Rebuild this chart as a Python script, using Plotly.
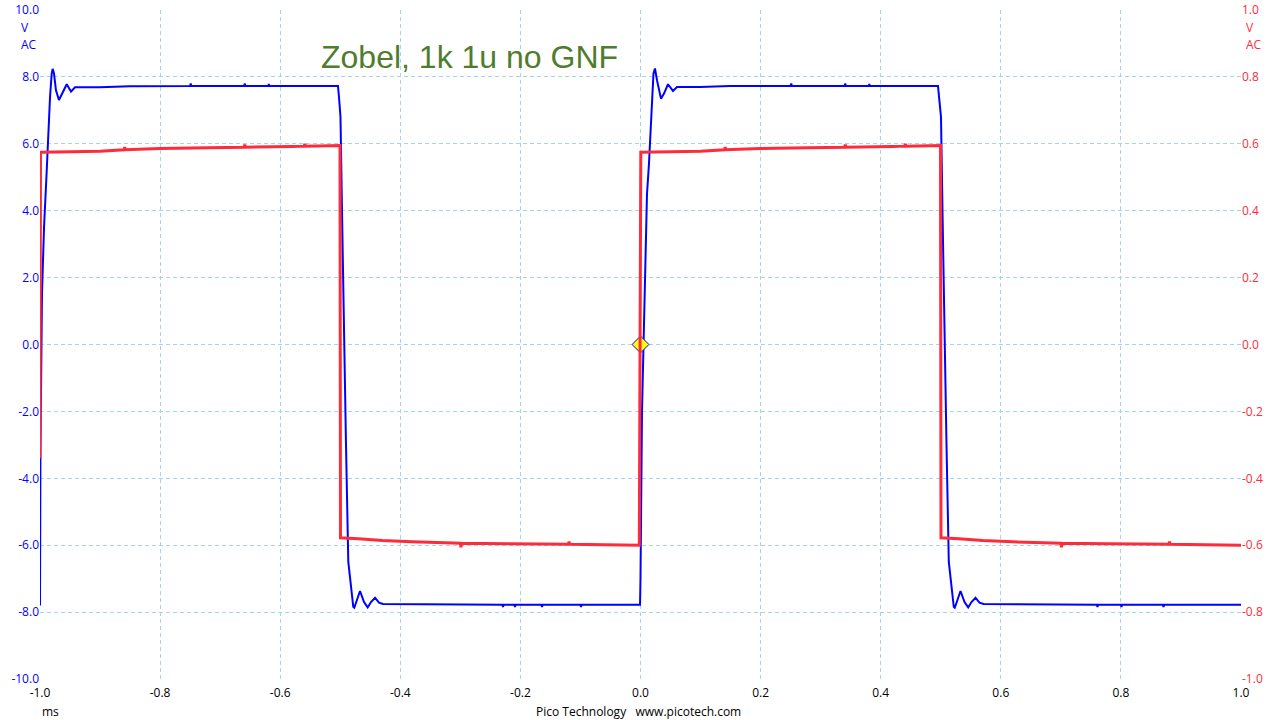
import plotly.graph_objects as go

# ---- data (time in ms) ----
blue_t = [-1.0, -0.9992, -0.9967, -0.9933, -0.9888, -0.9862, -0.9833, -0.9805, -0.9789, -0.9767,
          -0.9734, -0.9684, -0.9634, -0.9555, -0.9484, -0.9417, -0.9001, -0.8501,
          -0.75, -0.749, -0.748, -0.66, -0.659, -0.658, -0.62, -0.619, -0.618,
          -0.5038, -0.5021, -0.4996, -0.4971, -0.4938, -0.4904, -0.4866, -0.4821, -0.4783,
          -0.4766, -0.4721, -0.4671, -0.4604, -0.4543, -0.4488, -0.4421, -0.4355, -0.4288,
          -0.23, -0.229, -0.228, -0.21, -0.209, -0.208, -0.165, -0.164, -0.163, -0.10, -0.099, -0.098,
          -0.0008, 0.0, 0.0025, 0.0047, 0.0075, 0.0108, 0.0141, 0.0170, 0.0191, 0.0216,
          0.0241, 0.0275, 0.0341, 0.0391, 0.0458, 0.0541, 0.0608, 0.0991, 0.1490,
          0.25, 0.251, 0.252, 0.34, 0.341, 0.342, 0.38, 0.381, 0.382,
          0.4954, 0.4971, 0.5004, 0.5029, 0.5062, 0.5096, 0.5134, 0.5179, 0.5217,
          0.5234, 0.5279, 0.5329, 0.5396, 0.5457, 0.5512, 0.5579, 0.5645, 0.5712,
          0.76, 0.761, 0.762, 0.80, 0.801, 0.802, 0.87, 0.871, 0.872, 1.0]
blue_v = [-7.8, -3.0, 1.5, 3.5, 5.2, 6.4, 7.4, 8.1, 8.24, 8.1,
          7.6, 7.31, 7.5, 7.78, 7.56, 7.69, 7.69, 7.72,
          7.73, 7.8, 7.73, 7.73, 7.8, 7.73, 7.73, 7.79, 7.73,
          7.73, 7.4, 6.8, 4.0, 0.0, -3.0, -6.5, -7.19, -7.84,
          -7.87, -7.6, -7.37, -7.7, -7.86, -7.7, -7.57, -7.72, -7.76,
          -7.78, -7.85, -7.78, -7.78, -7.85, -7.78, -7.78, -7.85, -7.78, -7.78, -7.85, -7.78,
          -7.78, -7.0, -2.0, 0.0, 2.5, 4.5, 5.4, 6.6, 7.5, 8.1,
          8.25, 7.9, 7.35, 7.5, 7.78, 7.58, 7.7, 7.7, 7.73,
          7.73, 7.8, 7.73, 7.73, 7.8, 7.73, 7.73, 7.79, 7.73,
          7.73, 7.4, 6.8, 4.0, 0.0, -3.0, -6.5, -7.19, -7.84,
          -7.87, -7.6, -7.37, -7.7, -7.86, -7.7, -7.57, -7.72, -7.76,
          -7.78, -7.85, -7.78, -7.78, -7.85, -7.78, -7.78, -7.85, -7.78, -7.78]

red_t = [-1.0, -0.9992, -0.95, -0.90, -0.86, -0.859, -0.858, -0.80, -0.72, -0.66, -0.659, -0.658,
         -0.58, -0.56, -0.559, -0.558, -0.5004,
         -0.4996, -0.47, -0.43, -0.38, -0.30, -0.299, -0.298, -0.22, -0.12, -0.119, -0.118, -0.002,
         0.0005, 0.05, 0.10, 0.14, 0.141, 0.142, 0.20, 0.28, 0.34, 0.341, 0.342,
         0.42, 0.44, 0.441, 0.442, 0.4996,
         0.5004, 0.53, 0.57, 0.62, 0.70, 0.701, 0.702, 0.78, 0.88, 0.881, 0.882, 1.0]
red_v = [-0.34, 0.575, 0.576, 0.578, 0.582, 0.590, 0.582, 0.586, 0.588, 0.590, 0.598, 0.590,
         0.592, 0.593, 0.600, 0.593, 0.595,
         -0.578, -0.581, -0.586, -0.590, -0.594, -0.606, -0.594, -0.596, -0.597, -0.589, -0.597, -0.600,
         0.575, 0.576, 0.578, 0.582, 0.590, 0.582, 0.586, 0.588, 0.590, 0.598, 0.590,
         0.592, 0.593, 0.600, 0.593, 0.595,
         -0.578, -0.581, -0.586, -0.590, -0.594, -0.606, -0.594, -0.596, -0.597, -0.589, -0.597, -0.600]

marker_t = [0.0]
marker_v = [0.0]

x_ticks = [-1.0, -0.8, -0.6, -0.4, -0.2, 0.0, 0.2, 0.4, 0.6, 0.8, 1.0]
x_labels = ["-1.0", "-0.8", "-0.6", "-0.4", "-0.2", "0.0", "0.2", "0.4", "0.6", "0.8", "1.0"]
yl_ticks = [-10, -8, -6, -4, -2, 0, 2, 4, 6, 8, 10]
yl_labels = ["-10.0", "-8.0", "-6.0", "-4.0", "-2.0", "0.0", "2.0", "4.0", "6.0", "8.0", "10.0"]
yr_ticks = [-1.0, -0.8, -0.6, -0.4, -0.2, 0.0, 0.2, 0.4, 0.6, 0.8, 1.0]
yr_labels = ["-1.0", "-0.8", "-0.6", "-0.4", "-0.2", "0.0", "0.2", "0.4", "0.6", "0.8", "1.0"]

BLUE = "#0000ff"
RED = "#ff2a3a"
GRID = "#a6d6e2"
FONT = "Open Sans"

fig = go.Figure()
fig.add_trace(go.Scatter(x=red_t, y=red_v, mode="lines", yaxis="y2",
                         line=dict(color=RED, width=3), hoverinfo="skip"))
fig.add_trace(go.Scatter(x=blue_t, y=blue_v, mode="lines", yaxis="y",
                         line=dict(color=BLUE, width=2), hoverinfo="skip"))
fig.add_trace(go.Scatter(x=marker_t, y=marker_v, mode="markers", yaxis="y",
                         marker=dict(symbol="diamond", size=13, color="#ffff00",
                                     line=dict(color=BLUE, width=1)), hoverinfo="skip"))

fig.update_layout(
    width=1280, height=720,
    margin=dict(l=40, r=39, t=10, b=41, autoexpand=False),
    paper_bgcolor="white", plot_bgcolor="white",
    showlegend=False,
    font=dict(family=FONT, size=12),
    xaxis=dict(range=[-1.0, 1.0], tickvals=x_ticks, ticktext=x_labels,
               showgrid=True, gridcolor=GRID, griddash="4px,3px", gridwidth=1,
               zeroline=False, showline=False, ticks="", automargin=False,
               ticklabelstandoff=5,
               tickfont=dict(color="#000000", size=12, family=FONT)),
    yaxis=dict(range=[-10, 10], tickvals=yl_ticks, ticktext=yl_labels,
               showgrid=True, gridcolor=GRID, griddash="4px,3px", gridwidth=1,
               zeroline=False, showline=False, ticks="", automargin=False,
               tickfont=dict(color=BLUE, size=12, family=FONT)),
    yaxis2=dict(range=[-1, 1], tickvals=yr_ticks, ticktext=yr_labels,
                overlaying="y", side="right", showgrid=False, zeroline=False,
                showline=False, ticks="", automargin=False,
                tickfont=dict(color=RED, size=12, family=FONT)),
)

anns = [
    dict(text="V", x=-0.0125, y=0.9731, xanchor="center", font=dict(color=BLUE)),
    dict(text="AC", x=-0.0095, y=0.9477, xanchor="center", font=dict(color=BLUE)),
    dict(text="V", x=1.0, y=0.9731, xanchor="left", xshift=3, font=dict(color=RED)),
    dict(text="AC", x=1.0, y=0.9477, xanchor="left", xshift=3, font=dict(color=RED)),
    dict(text="ms", x=0.0, y=-0.0493, xanchor="left", font=dict(color="#000000")),
    dict(text="Pico Technology   www.picotech.com", x=0.4983, y=-0.0493, xanchor="center",
         font=dict(color="#000000")),
    dict(text="Zobel, 1k 1u no GNF", x=0.358, y=0.9297, xanchor="center",
         font=dict(color="#4f7d2d", size=32, family="Liberation Sans")),
]
for a in anns:
    a.setdefault("showarrow", False)
    a.setdefault("xref", "paper")
    a.setdefault("yref", "paper")
    a.setdefault("yanchor", "middle")
    f = a["font"]
    f.setdefault("size", 12)
    f.setdefault("family", FONT)
    fig.add_annotation(**a)

fig.write_html("out.html", config={"displayModeBar": False},
               post_script="document.body.style.margin='0';document.body.style.overflow='hidden';")
